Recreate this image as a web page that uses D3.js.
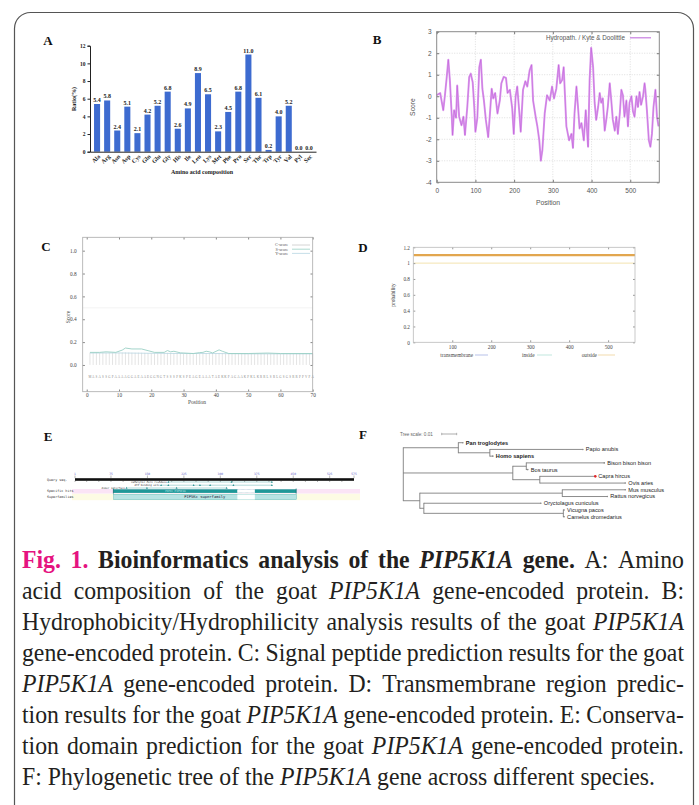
<!DOCTYPE html>
<html>
<head>
<meta charset="utf-8">
<script src="https://cdn.jsdelivr.net/npm/d3@7"></script>
<style>
  html, body { margin: 0; padding: 0; background: #fff; }
  svg { display: block; }
</style>
</head>
<body>
<script>
// ---- A: amino acid composition
const aminoAcids = ["Ala","Arg","Asn","Asp","Cys","Gln","Glu","Gly","His","Ile","Leu",
                    "Lys","Met","Phe","Pro","Ser","Thr","Trp","Tyr","Val","Pyl","Sec"];
const aminoRatio = [5.4,5.8,2.4,5.1,2.1,4.2,5.2,6.8,2.6,4.9,8.9,6.5,2.3,4.5,6.8,11.0,6.1,0.2,4.0,5.2,0.0,0.0];
const ratioTicks = [0,2,4,6,8,10,12];

// ---- B: Kyte & Doolittle hydropathy [position, score]
const hydropathy = [
  [0,0.05],[9,0.15],[17,-0.65],[21,0],[26,0.9],[30,1.7],[34,0.75],[39,-0.95],[41,-1.8],[45,-0.65],
  [50,-1.0],[53,0.5],[58,-0.95],[64,-1.35],[69,-0.95],[73,-1.8],[79,-0.5],[84,0.9],[88,1.05],[93,0.65],
  [97,-0.5],[100,-1.65],[105,-1.0],[110,1.35],[114,1.7],[118,0.35],[122,-0.2],[127,-1.1],[133,-1.9],[137,-0.95],
  [142,0.35],[146,-0.1],[151,0.15],[157,-0.8],[163,-0.2],[167,0.6],[173,0.9],[179,0.85],[183,0.15],[189,0.3],
  [195,-0.55],[199,-1.75],[204,0],[208,0.45],[213,-0.65],[217,-1.65],[223,0.3],[229,0.7],[234,0.45],[240,1.2],
  [245,1.45],[249,-0.2],[256,-1.0],[260,-1.4],[265,-2.05],[269,-3.0],[273,-2.5],[279,-0.8],[285,0.05],[292,-0.2],
  [298,0.45],[303,-0.1],[309,0.35],[315,1.45],[319,0.6],[324,0.75],[328,1.35],[335,-1.4],[342,-2.05],[348,-1.75],
  [352,-2.4],[356,-0.8],[361,0.45],[365,-0.5],[369,-1.5],[374,-1.25],[380,-2.05],[385,-0.65],[391,-2.35],[395,0.75],
  [399,2.25],[404,1.35],[408,-0.3],[412,-1.1],[417,-0.5],[421,0.15],[425,-0.3],[429,-0.1],[434,-1.6],[438,-1.1],
  [442,-0.5],[447,0.6],[451,-0.2],[455,-1.1],[460,-1.6],[464,-0.95],[468,-1.75],[473,-0.8],[477,0.3],[481,0.05],
  [485,-0.95],[490,-0.2],[494,-1.4],[498,-0.3],[503,0],[507,-0.7],[511,-0.95],[516,0],[520,-0.5],[524,0.2],
  [528,-0.4],[533,0],[537,0.6],[539,0.3],[543,-0.65],[548,-2.05],[552,-2.35],[556,-1.75],[560,-0.5],[565,0.3],
  [569,-0.95],[573,-1.4]
];
const hydroXTicks = [0,100,200,300,400,500];
const hydroYTicks = [-4,-3,-2,-1,0,1,2,3];

// ---- C: signal peptide scores (positions 1..70)
const cScore = [0.105,0.104,0.106,0.105,0.107,0.108,0.106,0.105,0.104,0.106,0.108,0.11,0.109,0.108,0.107,0.108,0.107,0.106,
  0.104,0.103,0.103,0.102,0.103,0.104,0.106,0.105,0.104,0.103,0.102,0.101,0.101,0.1,0.1,0.101,0.102,0.103,0.104,0.103,
  0.102,0.104,0.105,0.104,0.102,0.1,0.099,0.099,0.098,0.098,0.098,0.097,0.097,0.097,0.098,0.098,0.098,0.099,0.098,0.098,
  0.097,0.097,0.098,0.098,0.097,0.097,0.097,0.098,0.098,0.097,0.097,0.098];
const sScore = [[1,0.11],[4,0.11],[6,0.115],[9,0.11],[11,0.13],[12,0.148],[14,0.14],[17,0.14],[19,0.125],[21,0.11],
  [24,0.11],[25,0.126],[26,0.115],[27,0.12],[29,0.106],[33,0.1],[35,0.108],[36,0.11],[37,0.12],[38,0.115],[39,0.105],
  [41,0.132],[42,0.12],[44,0.1],[50,0.1],[56,0.104],[60,0.1],[70,0.1]];
const yScore = [[1,0.104],[10,0.105],[20,0.102],[30,0.1],[40,0.1],[50,0.097],[60,0.097],[70,0.097]];
const seqFirst70 = "MASASSGPAAAAGGAEAAEGGNGTSSSPKSPEAGEAAATAEKKPAGAAKPKLKRRLSRLGSGSRRPPVPA";
const spXTicks = [0,10,20,30,40,50,60,70];
const spYTicks = [0,0.2,0.4,0.6,0.8,1.0];
const spLegend = ["C-score","S-score","Y-score"];

// ---- D: transmembrane (TMHMM)
const tmLength = 569;
const tmOutsideBar = [[1,1.1],[569,1.1]];
const tmOutsideProb = [[1,1.0],[569,1.0]];
const tmXTicks = [100,200,300,400,500];
const tmYTicks = [0,0.2,0.4,0.6,0.8,1,1.2];
const tmLegend = ["transmembrane","inside","outside"];

// ---- E: conserved domains
const rulerMarks = [1,75,150,225,300,375,450,525,575];
const catalyticSites = [193,323,406];
const atpSites = [178,193,245,258,279,327,406];
const dimerSites = [107,149,210,313];
const specificHit = [80,456];
const hitGap = [335,371];

// ---- F: phylogenetic tree (branch lengths)
const tree = { len: 0, children: [
  { len: 0.0367, children: [
    { name: "Pan troglodytes", len: 0.003 },
    { len: 0.021, children: [ { name: "Papio anubis", len: 0.062 }, { name: "Homo sapiens", len: 0.002 } ] } ] },
  { len: 0.073, children: [
    { len: 0.009, children: [ { name: "Bison bison bison", len: 0.052 }, { name: "Bos taurus", len: 0.001 } ] },
    { len: 0.018, children: [ { name: "Capra hircus", len: 0.037 }, { name: "Ovis aries", len: 0.057 } ] } ] },
  { len: 0.011, children: [
    { len: 0.095, children: [ { name: "Mus musculus", len: 0.042 }, { name: "Rattus norvegicus", len: 0.030 } ] },
    { len: 0.0027, children: [
      { name: "Oryctolagus cuniculus", len: 0.078 },
      { len: 0.093, children: [ { name: "Vicugna pacos", len: 0.0005 }, { name: "Camelus dromedarius", len: 0.0005 } ] } ] } ] }
]};
const boldTaxa = ["Pan troglodytes", "Homo sapiens"];

// ---- caption
const captionLines = [
  [["Fig. 1.","fig"],["Bioinformatics analysis of the","b"],["PIP5K1A","bi"],["gene.","b"],["A: Amino","r"]],
  [["acid composition of the goat","r"],["PIP5K1A","i"],["gene-encoded protein. B:","r"]],
  [["Hydrophobicity/Hydrophilicity analysis results of the goat","r"],["PIP5K1A","i"]],
  [["gene-encoded protein. C: Signal peptide prediction results for the goat","r"]],
  [["PIP5K1A","i"],["gene-encoded protein. D: Transmembrane region predic-","r"]],
  [["tion results for the goat","r"],["PIP5K1A","i"],["gene-encoded protein. E: Conserva-","r"]],
  [["tion domain prediction for the goat","r"],["PIP5K1A","i"],["gene-encoded protein.","r"]],
  [["F: Phylogenetic tree of the","r"],["PIP5K1A","i"],["gene across different species.","r"]]
];

const SERIF = "'Liberation Serif','Times New Roman',serif";
const SANS = "'Liberation Sans',Arial,sans-serif";
const MONO = "'DejaVu Sans Mono','Liberation Mono',monospace";

const svg = d3.select("body").append("svg").attr("width", 699).attr("height", 805);
svg.append("rect").attr("width", 699).attr("height", 805).attr("fill", "#fff");
svg.append("rect").attr("x", 14.5).attr("y", 12.5).attr("width", 679).attr("height", 820)
  .attr("rx", 16).attr("fill", "none").attr("stroke", "#555").attr("stroke-width", 1.2);

// panel letters
[["A",48,45],["B",377,44],["C",46,251],["D",363,252],["E",48,441],["F",363,439]].forEach(([t,x,y]) => {
  svg.append("text").attr("x", x).attr("y", y).attr("text-anchor", "middle")
    .attr("font-family", SERIF).attr("font-weight", "bold").attr("font-size", 13).attr("fill", "#111").text(t);
});

// gnuplot-style framed axes, ticks pointing inward on all four sides
function boxAxes(g, x, y, o) {
  const [xl, xr] = x.range(), [yb, yt] = y.range();
  const ax = (gen, tx, ty, fmt, vals, pad) => {
    const s = g.append("g").attr("transform", `translate(${tx},${ty})`)
      .call(gen.tickValues(vals).tickSize(-o.tick).tickPadding(pad).tickFormat(fmt));
    s.select(".domain").remove();
    s.selectAll("line").attr("stroke", o.tickColor);
    s.selectAll("text").attr("font-family", o.font).attr("font-size", o.size).attr("fill", o.color);
  };
  ax(d3.axisBottom(x), 0, yb, o.xf, o.xt, o.xpad);
  ax(d3.axisTop(x), 0, yt, () => "", o.xt, 0);
  ax(d3.axisLeft(y), xl, 0, o.yf, o.yt, o.ypad);
  ax(d3.axisRight(y), xr, 0, () => "", o.yt, 0);
  g.append("rect").attr("x", xl).attr("y", yt).attr("width", xr - xl).attr("height", yb - yt)
    .attr("fill", "none").attr("stroke", o.frame).attr("stroke-width", o.fw || 1);
}

// ================= A =================
{
  const g = svg.append("g");
  const x = d3.scaleBand().domain(aminoAcids).range([90, 316]).paddingInner(0.4).paddingOuter(0.4);
  const y = d3.scaleLinear().domain([0, 12]).range([151.7, 45.7]);
  g.selectAll("rect").data(aminoAcids).join("rect")
    .attr("x", d => x(d)).attr("width", x.bandwidth())
    .attr("y", (d, i) => y(aminoRatio[i])).attr("height", (d, i) => y(0) - y(aminoRatio[i]))
    .attr("fill", "#3d6bd0");
  g.selectAll("text.val").data(aminoAcids).join("text").attr("class", "val")
    .attr("x", d => x(d) + x.bandwidth() / 2).attr("y", (d, i) => y(aminoRatio[i]) - 2)
    .attr("text-anchor", "middle").attr("font-family", SERIF).attr("font-weight", "bold")
    .attr("font-size", 6).attr("fill", "#222").text((d, i) => aminoRatio[i].toFixed(1));
  const ya = g.append("g").attr("transform", "translate(90,0)")
    .call(d3.axisLeft(y).tickValues(ratioTicks).tickSize(2.5).tickPadding(2).tickFormat(d => String(d)));
  ya.selectAll("text").attr("font-family", SERIF).attr("font-weight", "bold").attr("font-size", 5.5).attr("fill", "#222");
  ya.selectAll("line,path").attr("stroke", "#222");
  const xa = g.append("g").attr("transform", "translate(0,151.7)")
    .call(d3.axisBottom(x).tickSize(0).tickFormat(""));
  xa.select(".domain").attr("stroke", "#222");
  g.selectAll("text.cat").data(aminoAcids).join("text").attr("class", "cat")
    .attr("transform", d => `translate(${x(d) + x.bandwidth() / 2 + 2},155.5) rotate(-45)`)
    .attr("text-anchor", "end").attr("dy", "0.35em")
    .attr("font-family", SERIF).attr("font-weight", "bold").attr("font-size", 6).attr("fill", "#222").text(d => d);
  g.append("text").attr("x", 202).attr("y", 174).attr("text-anchor", "middle")
    .attr("font-family", SERIF).attr("font-weight", "bold").attr("font-size", 6).attr("fill", "#222")
    .text("Amino acid composition");
  g.append("text").attr("transform", "translate(76,99) rotate(-90)").attr("text-anchor", "middle")
    .attr("font-family", SERIF).attr("font-weight", "bold").attr("font-size", 6).attr("fill", "#222")
    .text("Ratio(%)");
}

// ================= B =================
{
  const g = svg.append("g");
  const x = d3.scaleLinear().domain([0, 575]).range([436.7, 659.3]);
  const y = d3.scaleLinear().domain([-4, 3]).range([182.3, 31.7]);
  g.selectAll("line.gx").data(hydroXTicks.slice(1)).join("line").attr("class", "gx")
    .attr("x1", d => x(d)).attr("x2", d => x(d)).attr("y1", y(-4)).attr("y2", y(3))
    .attr("stroke", "#c8c8c8").attr("stroke-width", 0.6).attr("stroke-dasharray", "1,1.5");
  g.selectAll("line.gy").data(hydroYTicks.slice(1, -1)).join("line").attr("class", "gy")
    .attr("x1", x(0)).attr("x2", x(575)).attr("y1", d => y(d)).attr("y2", d => y(d))
    .attr("stroke", "#c8c8c8").attr("stroke-width", 0.6).attr("stroke-dasharray", "1,1.5");
  const line = d3.line().x(d => x(d[0])).y(d => y(d[1]));
  g.append("path").datum(hydropathy).attr("d", line).attr("fill", "none")
    .attr("stroke", "#dc9eec").attr("stroke-width", 2).attr("stroke-linejoin", "round");
  g.append("path").datum(hydropathy).attr("d", line).attr("fill", "none")
    .attr("stroke", "#b444d4").attr("stroke-width", 0.6).attr("stroke-opacity", 0.65).attr("stroke-linejoin", "round");
  boxAxes(g, x, y, { xt: hydroXTicks, yt: hydroYTicks, xf: d => String(d), yf: d => String(d),
    tick: 2.5, xpad: 6.2, ypad: 5, font: SANS, size: 6.5, color: "#555", tickColor: "#777", frame: "#8a8a8a", fw: 1 });
  g.append("text").attr("x", 548).attr("y", 204.5).attr("text-anchor", "middle")
    .attr("font-family", SANS).attr("font-size", 6.8).attr("fill", "#555").text("Position");
  g.append("text").attr("transform", "translate(415,107) rotate(-90)").attr("text-anchor", "middle")
    .attr("font-family", SANS).attr("font-size", 6.8).attr("fill", "#555").text("Score");
  g.append("text").attr("x", 625).attr("y", 40).attr("text-anchor", "end")
    .attr("font-family", SANS).attr("font-size", 6.3).attr("fill", "#555").text("Hydropath. / Kyte & Doolittle");
  g.append("line").attr("x1", 630).attr("x2", 651).attr("y1", 37.8).attr("y2", 37.8)
    .attr("stroke", "#c77de0").attr("stroke-width", 1.2);
}

// ================= C =================
{
  const g = svg.append("g");
  const x = d3.scaleLinear().domain([-1.24, 70]).range([82.7, 312.7]);
  const y = d3.scaleLinear().domain([-0.234, 1.117]).range([391.7, 237.3]);
  g.append("line").attr("x1", x(-1.24)).attr("x2", x(70)).attr("y1", y(0.5)).attr("y2", y(0.5))
    .attr("stroke", "#f0f0f0").attr("stroke-width", 0.8);
  g.selectAll("line.c").data(cScore).join("line").attr("class", "c")
    .attr("x1", (d, i) => x(i + 1)).attr("x2", (d, i) => x(i + 1)).attr("y1", y(0)).attr("y2", d => y(d))
    .attr("stroke", "#c9c9c9").attr("stroke-width", 0.5);
  const line = d3.line().x(d => x(d[0])).y(d => y(d[1]));
  g.append("path").datum(yScore).attr("d", line).attr("fill", "none").attr("stroke", "#b7d6e2").attr("stroke-width", 0.8);
  g.append("path").datum(sScore).attr("d", line).attr("fill", "none").attr("stroke", "#98cfc4").attr("stroke-width", 0.9);
  g.selectAll("text.aa").data(seqFirst70.split("")).join("text").attr("class", "aa")
    .attr("x", (d, i) => x(i + 1)).attr("y", y(-0.1)).attr("dy", "0.35em").attr("text-anchor", "middle")
    .attr("font-family", SERIF).attr("font-size", 3.2).attr("fill", "#888").text(d => d);
  boxAxes(g, x, y, { xt: spXTicks, yt: spYTicks, xf: d => String(d), yf: d3.format(".1f"),
    tick: 2.2, xpad: 2, ypad: 6, font: SERIF, size: 5.3, color: "#444", tickColor: "#888", frame: "#aaa", fw: 0.8 });
  g.append("text").attr("x", 197).attr("y", 404).attr("text-anchor", "middle")
    .attr("font-family", SERIF).attr("font-size", 5.5).attr("fill", "#444").text("Position");
  g.append("text").attr("transform", "translate(69.5,317) rotate(-90)").attr("text-anchor", "middle")
    .attr("font-family", SERIF).attr("font-size", 5.5).attr("fill", "#444").text("Score");
  const legCols = ["#c9c9c9", "#98cfc4", "#b7d6e2"];
  spLegend.forEach((t, i) => {
    const ly = 245 + i * 4.2;
    g.append("text").attr("x", 288).attr("y", ly).attr("dy", "0.35em").attr("text-anchor", "end")
      .attr("font-family", SERIF).attr("font-size", 4.2).attr("fill", "#555").text(t);
    g.append("line").attr("x1", 292).attr("x2", 310).attr("y1", ly).attr("y2", ly)
      .attr("stroke", legCols[i]).attr("stroke-width", 0.8);
  });
}

// ================= D =================
{
  const g = svg.append("g");
  const x = d3.scaleLinear().domain([0, tmLength]).range([413.3, 635]);
  const y = d3.scaleLinear().domain([0, 1.2]).range([342.3, 247.3]);
  const line = d3.line().x(d => x(d[0])).y(d => y(d[1]));
  g.append("path").datum(tmOutsideProb).attr("d", line).attr("fill", "none").attr("stroke", "#f0dc9c").attr("stroke-width", 0.8);
  g.append("path").datum(tmOutsideBar).attr("d", line).attr("fill", "none").attr("stroke", "#e2a64e").attr("stroke-width", 2.2);
  boxAxes(g, x, y, { xt: tmXTicks, yt: tmYTicks, xf: d => String(d), yf: d3.format("~g"),
    tick: 2, xpad: 3, ypad: 3.3, font: SERIF, size: 5.3, color: "#444", tickColor: "#999", frame: "#bbb", fw: 0.8 });
  g.append("text").attr("transform", "translate(395,295) rotate(-90)").attr("text-anchor", "middle")
    .attr("font-family", SERIF).attr("font-size", 5.3).attr("fill", "#444").text("probability");
  const legX = [[456.7, 475, 488, "#9aa6e0"], [528.3, 537, 552, "#a8dcd0"], [589.3, 598, 615, "#eccb8a"]];
  tmLegend.forEach((t, i) => {
    const [tx, l1, l2, c] = legX[i];
    g.append("text").attr("x", tx).attr("y", 355).attr("dy", "0.35em").attr("text-anchor", "middle")
      .attr("font-family", SERIF).attr("font-size", 5.3).attr("fill", "#444").text(t);
    g.append("line").attr("x1", l1).attr("x2", l2).attr("y1", 355).attr("y2", 355).attr("stroke", c).attr("stroke-width", 0.7);
  });
}

// ================= E =================
{
  const g = svg.append("g");
  const x = d3.scaleLinear().domain([1, 575]).range([75, 354]);
  const rowLabel = (t, yy) => g.append("text").attr("x", 47).attr("y", yy).attr("dy", "0.35em")
    .attr("font-family", MONO).attr("font-size", 3.4).attr("fill", "#333").text(t);
  // bands
  g.append("rect").attr("x", 72).attr("y", 489).attr("width", 288).attr("height", 4.6).attr("fill", "#fbe4f6");
  g.append("rect").attr("x", 72).attr("y", 493.8).attr("width", 288).attr("height", 6.4).attr("fill", "#fdfbe4");
  rowLabel("Query seq.", 479.5);
  rowLabel("Specific hits", 491.3);
  rowLabel("Superfamilies", 497);
  // ruler
  g.append("rect").attr("x", x(1)).attr("y", 478.2).attr("width", x(575) - x(1)).attr("height", 2.6).attr("fill", "#111");
  g.selectAll("line.mt").data(d3.range(0, 575, 25)).join("line").attr("class", "mt")
    .attr("x1", d => x(Math.max(d, 1))).attr("x2", d => x(Math.max(d, 1))).attr("y1", 480.8).attr("y2", 481.8)
    .attr("stroke", "#111").attr("stroke-width", 0.4);
  g.selectAll("line.rt").data(rulerMarks).join("line").attr("class", "rt")
    .attr("x1", d => x(d)).attr("x2", d => x(d)).attr("y1", 475.5).attr("y2", 478.2)
    .attr("stroke", "#555").attr("stroke-width", 0.4);
  g.selectAll("text.rl").data(rulerMarks).join("text").attr("class", "rl")
    .attr("x", d => x(d)).attr("y", 474.8).attr("text-anchor", "middle")
    .attr("font-family", MONO).attr("font-size", 3).attr("fill", "#6262c8").text(d => d);
  // site features
  const feature = (name, sites, yy) => {
    g.append("text").attr("x", x(sites[0]) - 1.5).attr("y", yy).attr("dy", "0.35em").attr("text-anchor", "end")
      .attr("font-family", MONO).attr("font-size", 2.6).attr("fill", "#333").text(name);
    g.append("line").attr("x1", x(sites[0])).attr("x2", x(sites[sites.length - 1])).attr("y1", yy).attr("y2", yy)
      .attr("stroke", "#3a9c9c").attr("stroke-width", 0.4);
    g.selectAll(null).data(sites).join("path")
      .attr("d", d => `M${x(d)},${yy - 1.2}l-1,1.9h2z`).attr("fill", "#2f9494");
  };
  feature("catalytic core residues", catalyticSites, 482);
  feature("ATP binding site", atpSites, 485.2);
  feature("dimer interface", dimerSites, 488);
  // specific hit (with gap)
  g.append("rect").attr("x", x(specificHit[0])).attr("y", 489.3).attr("width", x(hitGap[0]) - x(specificHit[0]))
    .attr("height", 3.6).attr("fill", "#1f9898");
  g.append("rect").attr("x", x(hitGap[1])).attr("y", 489.3).attr("width", x(specificHit[1]) - x(hitGap[1]))
    .attr("height", 3.6).attr("fill", "#1f9898");
  g.append("rect").attr("x", x(hitGap[0])).attr("y", 489.5).attr("width", x(hitGap[1]) - x(hitGap[0]))
    .attr("height", 3.2).attr("fill", "#fff").attr("stroke", "#1f9898").attr("stroke-width", 0.3).attr("stroke-dasharray", "0.6,0.6");
  [specificHit[0], specificHit[1]].forEach(d => g.append("line").attr("x1", x(d)).attr("x2", x(d))
    .attr("y1", 488.6).attr("y2", 493.6).attr("stroke", "#0d6f6f").attr("stroke-width", 0.8));
  g.append("text").attr("x", (x(specificHit[0]) + x(hitGap[0])) / 2).attr("y", 491.1).attr("dy", "0.35em")
    .attr("text-anchor", "middle").attr("font-family", MONO).attr("font-size", 2.6).attr("fill", "#bfe9e9")
    .text("PIPKc_PIP5K1A");
  // superfamily
  g.append("rect").attr("x", x(specificHit[0])).attr("y", 494.2).attr("width", x(specificHit[1] + 1) - x(specificHit[0]))
    .attr("height", 5.6).attr("fill", "#b7e3e3").attr("stroke", "#3aa5a5").attr("stroke-width", 0.3);
  g.append("rect").attr("x", x(hitGap[0])).attr("y", 494.5).attr("width", x(hitGap[1]) - x(hitGap[0]))
    .attr("height", 5).attr("fill", "#fff");
  g.append("text").attr("x", x(268)).attr("y", 497.1).attr("dy", "0.35em").attr("text-anchor", "middle")
    .attr("font-family", MONO).attr("font-size", 3.8).attr("fill", "#223").text("PIP5Kc superfamily");
}

// ================= F =================
{
  const g = svg.append("g");
  const root = d3.hierarchy(tree);
  root.each(n => { n.dist = (n.parent ? n.parent.dist : 0) + (n.data.len || 0); });
  const leaves = root.leaves();
  const x = d3.scaleLinear().domain([0, 0.01]).range([403.3, 418.3]);
  const y = d3.scalePoint().domain(leaves.map(l => l.data.name)).range([442.7, 516.7]);
  root.eachAfter(n => {
    n.py = n.children ? (n.children[0].py + n.children[n.children.length - 1].py) / 2 : y(n.data.name);
  });
  const stroke = "#6f6f6f";
  root.each(n => {
    if (n.parent) g.append("line").attr("x1", x(n.parent.dist)).attr("x2", x(n.dist))
      .attr("y1", n.py).attr("y2", n.py).attr("stroke", stroke).attr("stroke-width", 0.8);
    if (n.children) g.append("line").attr("x1", x(n.dist)).attr("x2", x(n.dist))
      .attr("y1", n.children[0].py - 0.4).attr("y2", n.children[n.children.length - 1].py + 0.4)
      .attr("stroke", stroke).attr("stroke-width", 0.8);
  });
  leaves.forEach(l => {
    const red = l.data.name === "Capra hircus";
    g.append("circle").attr("cx", x(l.dist)).attr("cy", l.py).attr("r", red ? 1.3 : 0.8)
      .attr("fill", red ? "#e0282c" : "#888");
    g.append("text").attr("x", x(l.dist) + 3).attr("y", l.py).attr("dy", "0.35em")
      .attr("font-family", SANS).attr("font-size", 5.6)
      .attr("font-weight", boldTaxa.includes(l.data.name) ? "bold" : "normal")
      .attr("fill", "#222").text(l.data.name);
  });
  g.append("text").attr("x", 400).attr("y", 434).attr("dy", "0.35em")
    .attr("font-family", SANS).attr("font-size", 4.6).attr("fill", "#666").text("Tree scale: 0.01");
  g.append("line").attr("x1", x(0.0256)).attr("x2", x(0.0356)).attr("y1", 434).attr("y2", 434)
    .attr("stroke", "#777").attr("stroke-width", 0.6);
  [0.0256, 0.0356].forEach(d => g.append("line").attr("x1", x(d)).attr("x2", x(d)).attr("y1", 432.8).attr("y2", 435.2)
    .attr("stroke", "#777").attr("stroke-width", 0.5));
}

// ================= caption =================
{
  const size = 25, left = 22, right = 684, lastRight = 655, base0 = 568, lead = 31;
  const st = {
    fig: { w: "bold", s: "normal", c: "#e5137f" },
    b:   { w: "bold", s: "normal", c: "#231f20" },
    bi:  { w: "bold", s: "italic", c: "#231f20" },
    i:   { w: "normal", s: "italic", c: "#231f20" },
    r:   { w: "normal", s: "normal", c: "#231f20" }
  };
  const cg = svg.append("g");
  const lines = captionLines.map((segs, li) => {
    const lg = cg.append("g");
    const words = segs.flatMap(([txt, k]) => txt.split(" ").map(w => ({ w, k })));
    words.forEach(o => {
      o.el = lg.append("text").attr("y", base0 + li * lead).attr("font-family", SERIF)
        .attr("font-size", size).attr("font-weight", st[o.k].w).attr("font-style", st[o.k].s)
        .attr("fill", st[o.k].c).text(o.w);
      o.width = o.el.node().getComputedTextLength();
    });
    return { lg, words };
  });
  const space = 0.25 * size;
  const last = lines[lines.length - 1];
  const natural = d3.sum(last.words, o => o.width) + space * (last.words.length - 1);
  const sx = (lastRight - left) / natural;
  lines.forEach((ln, li) => {
    ln.lg.attr("transform", `translate(${left},0) scale(${sx},1)`);
    const sumW = d3.sum(ln.words, o => o.width);
    const gap = li === lines.length - 1 ? space : ((right - left) / sx - sumW) / (ln.words.length - 1);
    let cx = 0;
    ln.words.forEach(o => { o.el.attr("x", cx); cx += o.width + gap; });
  });
}
</script>
</body>
</html>
